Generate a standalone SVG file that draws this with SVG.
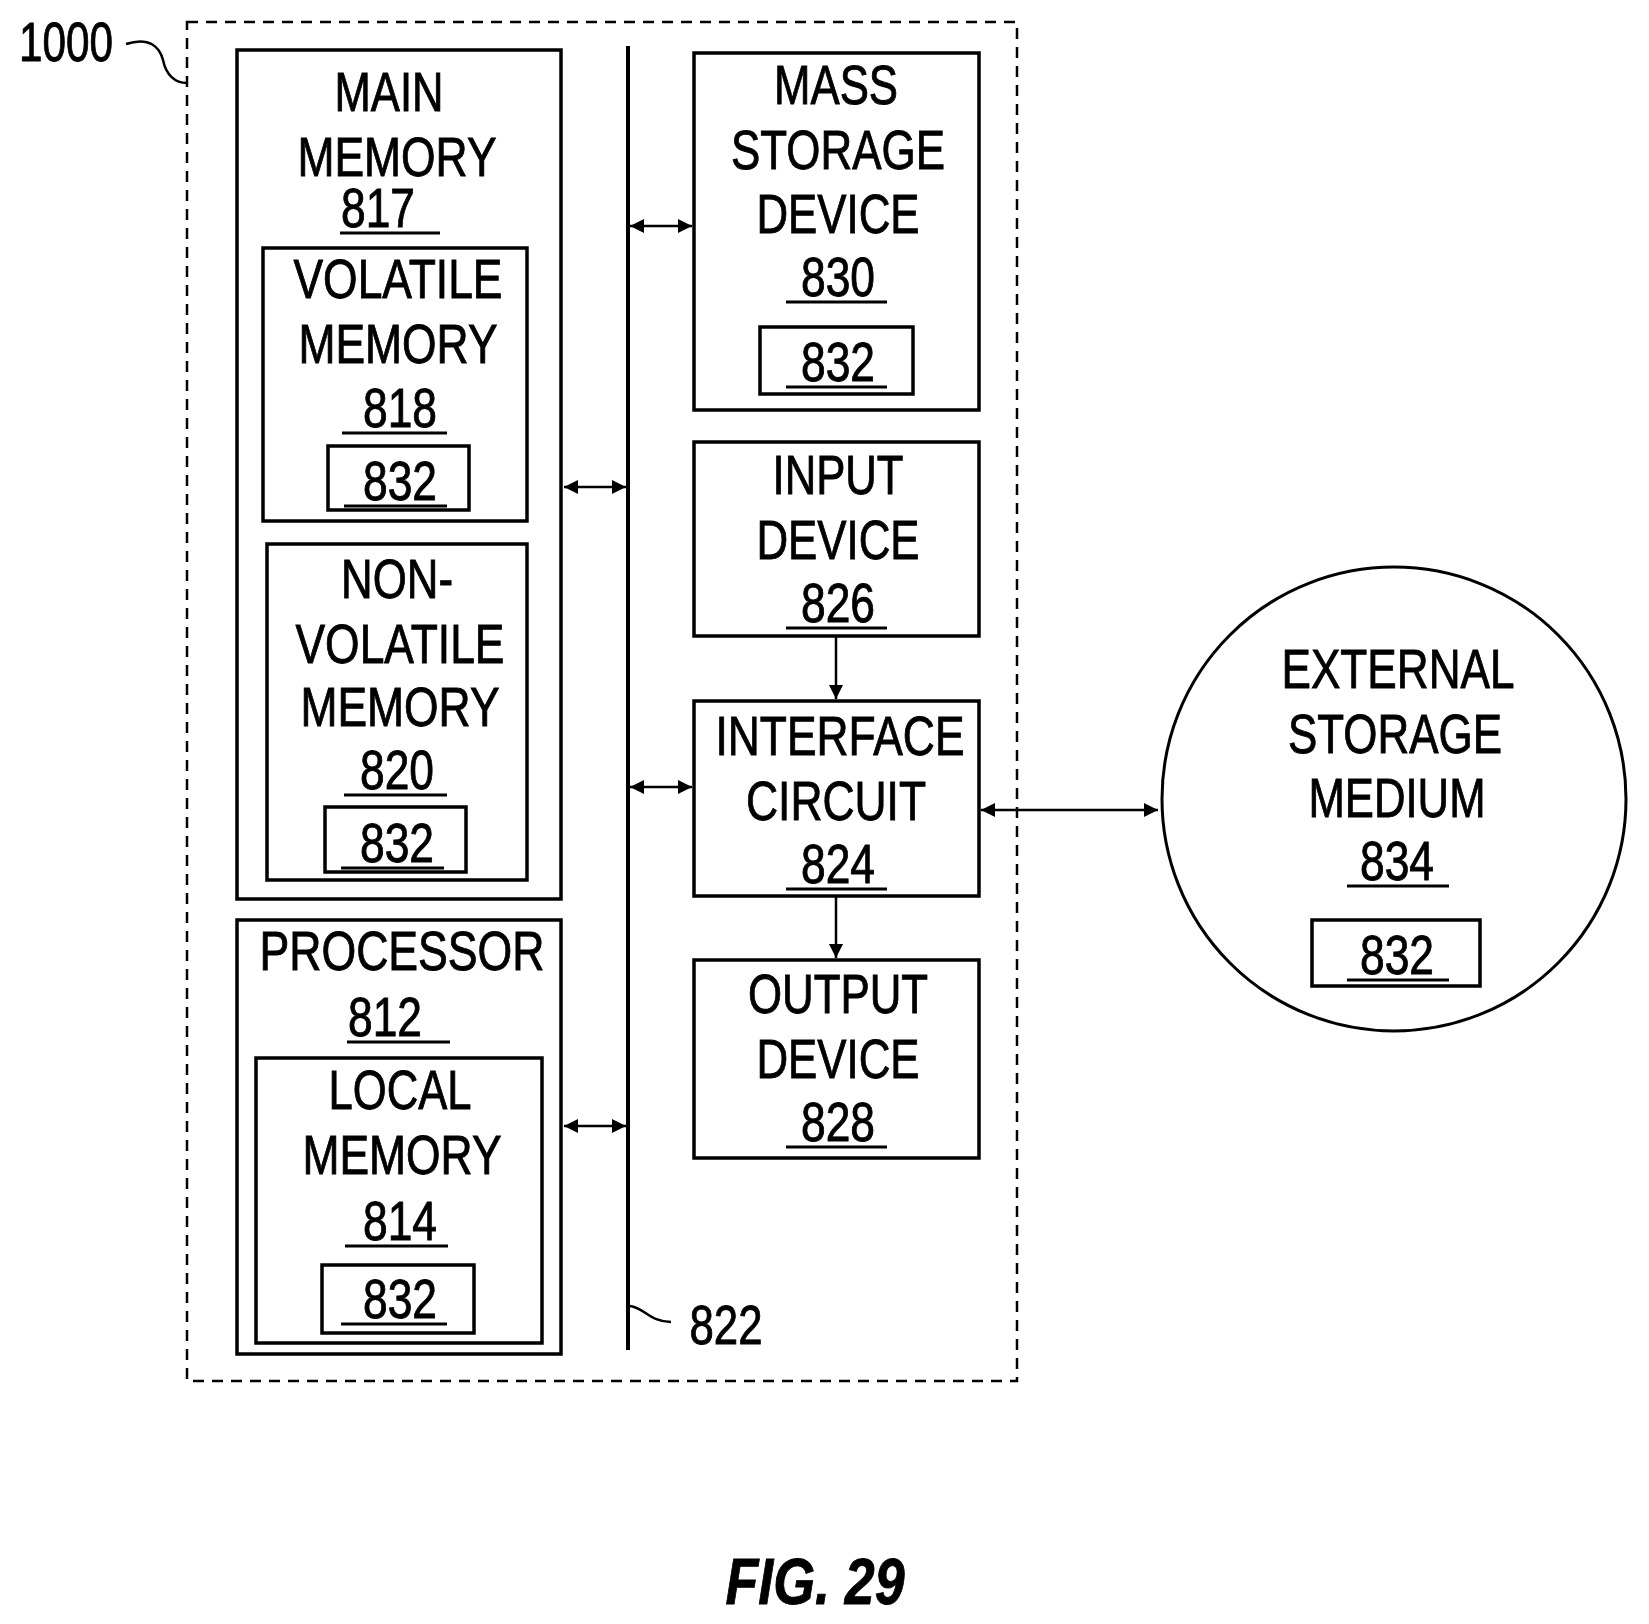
<svg xmlns="http://www.w3.org/2000/svg" width="1649" height="1624" viewBox="0 0 1649 1624">
<style>
text{font-family:"Liberation Sans",Arial,sans-serif;font-size:56px;fill:#000;stroke:#000;stroke-width:0.9;text-anchor:middle}
.b{fill:none;stroke:#000;stroke-width:3.5}
.u{stroke:#000;stroke-width:3}
.c{fill:none;stroke:#000;stroke-width:2.5}
</style>
<defs>
<marker id="a" viewBox="0 0 10 10" refX="10" refY="5" markerWidth="15" markerHeight="14" markerUnits="userSpaceOnUse" orient="auto-start-reverse"><path d="M0,0 L10,5 L0,10 z" fill="#000"/></marker>
</defs>
<rect x="187" y="22" width="830" height="1359" fill="none" stroke="#000" stroke-width="2.5" stroke-dasharray="11,8"/>
<text x="19" y="61" textLength="94" lengthAdjust="spacingAndGlyphs" style="text-anchor:start">1000</text>
<path class="c" d="M126,44 C150,36 160,48 163,60 C166,75 175,83 187,83"/>
<g id="main-memory">
<rect class="b" x="237" y="50" width="324" height="849"/>
<text x="389" y="111" textLength="109" lengthAdjust="spacingAndGlyphs">MAIN</text>
<text x="397" y="176" textLength="199" lengthAdjust="spacingAndGlyphs">MEMORY</text>
<text x="378" y="227" textLength="74" lengthAdjust="spacingAndGlyphs">817</text>
<line class="u" x1="340" y1="233" x2="440" y2="233"/>
</g>
<g id="volatile-memory">
<rect class="b" x="263" y="248" width="264" height="273"/>
<text x="398" y="298" textLength="209" lengthAdjust="spacingAndGlyphs">VOLATILE</text>
<text x="398" y="363" textLength="199" lengthAdjust="spacingAndGlyphs">MEMORY</text>
<text x="400" y="427" textLength="74" lengthAdjust="spacingAndGlyphs">818</text>
<line class="u" x1="342" y1="433" x2="447" y2="433"/>
<rect class="b" x="328" y="446" width="141" height="64"/>
<text x="400" y="500" textLength="74" lengthAdjust="spacingAndGlyphs">832</text>
<line class="u" x1="344" y1="506" x2="447" y2="506"/>
</g>
<g id="non-volatile-memory">
<rect class="b" x="267" y="544" width="260" height="336"/>
<text x="397" y="598" textLength="112" lengthAdjust="spacingAndGlyphs">NON-</text>
<text x="400" y="663" textLength="209" lengthAdjust="spacingAndGlyphs">VOLATILE</text>
<text x="400" y="726" textLength="199" lengthAdjust="spacingAndGlyphs">MEMORY</text>
<text x="397" y="789" textLength="74" lengthAdjust="spacingAndGlyphs">820</text>
<line class="u" x1="344" y1="795" x2="447" y2="795"/>
<rect class="b" x="325" y="807" width="141" height="65"/>
<text x="397" y="862" textLength="74" lengthAdjust="spacingAndGlyphs">832</text>
<line class="u" x1="341" y1="868" x2="444" y2="868"/>
</g>
<g id="processor">
<rect class="b" x="237" y="920" width="324" height="434"/>
<text x="402" y="970" textLength="285" lengthAdjust="spacingAndGlyphs">PROCESSOR</text>
<text x="385" y="1036" textLength="74" lengthAdjust="spacingAndGlyphs">812</text>
<line class="u" x1="347" y1="1042" x2="450" y2="1042"/>
</g>
<g id="local-memory">
<rect class="b" x="256" y="1058" width="286" height="285"/>
<text x="400" y="1109" textLength="143" lengthAdjust="spacingAndGlyphs">LOCAL</text>
<text x="402" y="1174" textLength="199" lengthAdjust="spacingAndGlyphs">MEMORY</text>
<text x="400" y="1240" textLength="74" lengthAdjust="spacingAndGlyphs">814</text>
<line class="u" x1="345" y1="1246" x2="448" y2="1246"/>
<rect class="b" x="322" y="1265" width="152" height="68"/>
<text x="400" y="1318" textLength="74" lengthAdjust="spacingAndGlyphs">832</text>
<line class="u" x1="341" y1="1324" x2="447" y2="1324"/>
</g>
<g id="bus">
<line x1="628" y1="46" x2="628" y2="1350" stroke="#000" stroke-width="4"/>
<path class="c" d="M630,1306 C645,1308 650,1322 671,1322"/>
<text x="726" y="1344" textLength="73" lengthAdjust="spacingAndGlyphs">822</text>
</g>
<g id="mass-storage">
<rect class="b" x="694" y="53" width="285" height="357"/>
<text x="836" y="104" textLength="124" lengthAdjust="spacingAndGlyphs">MASS</text>
<text x="838" y="169" textLength="214" lengthAdjust="spacingAndGlyphs">STORAGE</text>
<text x="838" y="233" textLength="163" lengthAdjust="spacingAndGlyphs">DEVICE</text>
<text x="838" y="296" textLength="74" lengthAdjust="spacingAndGlyphs">830</text>
<line class="u" x1="786" y1="302" x2="887" y2="302"/>
<rect class="b" x="760" y="327" width="153" height="67"/>
<text x="838" y="381" textLength="74" lengthAdjust="spacingAndGlyphs">832</text>
<line class="u" x1="786" y1="387" x2="887" y2="387"/>
</g>
<g id="input-device">
<rect class="b" x="694" y="442" width="285" height="194"/>
<text x="838" y="494" textLength="131" lengthAdjust="spacingAndGlyphs">INPUT</text>
<text x="838" y="559" textLength="163" lengthAdjust="spacingAndGlyphs">DEVICE</text>
<text x="838" y="622" textLength="74" lengthAdjust="spacingAndGlyphs">826</text>
<line class="u" x1="786" y1="628" x2="887" y2="628"/>
</g>
<g id="interface-circuit">
<rect class="b" x="694" y="701" width="285" height="195"/>
<text x="840" y="755" textLength="249" lengthAdjust="spacingAndGlyphs">INTERFACE</text>
<text x="836" y="820" textLength="180" lengthAdjust="spacingAndGlyphs">CIRCUIT</text>
<text x="838" y="883" textLength="74" lengthAdjust="spacingAndGlyphs">824</text>
<line class="u" x1="786" y1="889" x2="887" y2="889"/>
</g>
<g id="output-device">
<rect class="b" x="694" y="960" width="285" height="198"/>
<text x="838" y="1013" textLength="180" lengthAdjust="spacingAndGlyphs">OUTPUT</text>
<text x="838" y="1078" textLength="163" lengthAdjust="spacingAndGlyphs">DEVICE</text>
<text x="838" y="1141" textLength="74" lengthAdjust="spacingAndGlyphs">828</text>
<line class="u" x1="786" y1="1147" x2="887" y2="1147"/>
</g>
<g id="external-storage">
<circle cx="1394" cy="799" r="232" fill="none" stroke="#000" stroke-width="3"/>
<text x="1398" y="688" textLength="233" lengthAdjust="spacingAndGlyphs">EXTERNAL</text>
<text x="1395" y="753" textLength="214" lengthAdjust="spacingAndGlyphs">STORAGE</text>
<text x="1397" y="817" textLength="177" lengthAdjust="spacingAndGlyphs">MEDIUM</text>
<text x="1397" y="880" textLength="74" lengthAdjust="spacingAndGlyphs">834</text>
<line class="u" x1="1347" y1="886" x2="1449" y2="886"/>
<rect class="b" x="1312" y="920" width="168" height="66"/>
<text x="1397" y="974" textLength="74" lengthAdjust="spacingAndGlyphs">832</text>
<line class="u" x1="1347" y1="980" x2="1449" y2="980"/>
</g>
<g id="connectors" stroke="#000" stroke-width="2.5" fill="none">
<line x1="564" y1="487" x2="626" y2="487" marker-start="url(#a)" marker-end="url(#a)"/>
<line x1="564" y1="1126" x2="626" y2="1126" marker-start="url(#a)" marker-end="url(#a)"/>
<line x1="630" y1="226" x2="692" y2="226" marker-start="url(#a)" marker-end="url(#a)"/>
<line x1="630" y1="787" x2="692" y2="787" marker-start="url(#a)" marker-end="url(#a)"/>
<line x1="836" y1="637" x2="836" y2="699" marker-end="url(#a)"/>
<line x1="836" y1="897" x2="836" y2="958" marker-end="url(#a)"/>
<line x1="981" y1="810" x2="1158" y2="810" marker-start="url(#a)" marker-end="url(#a)"/>
</g>
<text x="815" y="1604" textLength="179" lengthAdjust="spacingAndGlyphs" style="font-weight:bold;font-style:italic;font-size:64px">FIG. 29</text>
</svg>
